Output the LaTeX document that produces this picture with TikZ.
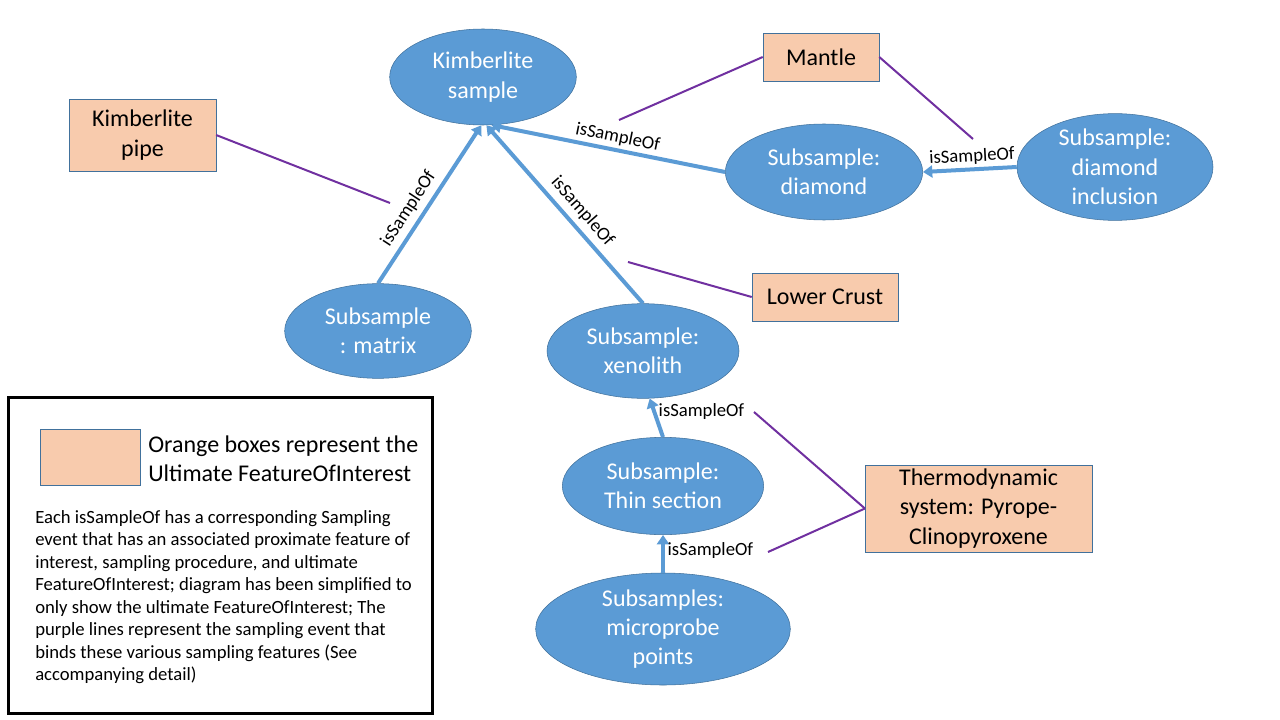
\documentclass[tikz,border=0pt]{standalone}
\usepackage{fontspec}
\setmainfont{Carlito}
\usetikzlibrary{shapes.geometric,arrows.meta}
\definecolor{sampleblue}{HTML}{5B9BD5}
\definecolor{sampleborder}{HTML}{41719C}
\definecolor{foifill}{HTML}{F8CBAD}
\definecolor{eventpurple}{HTML}{7030A0}

\begin{document}
\begin{tikzpicture}[x=0.75pt,y=-0.75pt]
\tikzstyle{sample}=[ellipse, draw=sampleborder, fill=sampleblue, text=white, inner sep=0pt, align=center, font=\fontsize{18}{22}\selectfont]
\tikzstyle{foi}=[rectangle, draw=sampleborder, fill=foifill, inner sep=0pt, align=center, font=\fontsize{18}{22}\selectfont]
\tikzstyle{sample-edge}=[-{Triangle[length=7pt,width=9pt]}, sampleblue, line width=3pt]
\tikzstyle{event-edge}=[eventpurple, line width=1.5pt]
\tikzstyle{edge-label}=[black, font=\fontsize{14}{16}\selectfont, inner sep=2pt]

\useasboundingbox (0,0) rectangle (1280,720);

\node[style=sample, minimum width=140pt, minimum height=72pt] (ksample) at (483,77) {Kimberlite\\sample};
\node[style=sample, minimum width=140pt, minimum height=71pt] (matrix) at (378,331) {Subsample\\: matrix};
\node[style=sample, minimum width=144pt, minimum height=71pt] (xenolith) at (643,351) {Subsample:\\xenolith};
\node[style=sample, minimum width=148pt, minimum height=72pt] (diamond) at (824,172) {Subsample:\\diamond};
\node[style=sample, minimum width=147pt, minimum height=73pt] (inclusion) at (1115,167) {Subsample:\\diamond\\inclusion};
\node[style=sample, minimum width=151pt, minimum height=73pt] (thin) at (663,486) {Subsample:\\Thin section};
\node[style=sample, minimum width=191pt, minimum height=73pt] (micro) at (663,629) {Subsamples:\\microprobe\\points};

\node[style=foi, minimum width=110pt, minimum height=54pt] (pipe) at (142.5,135) {Kimberlite\\pipe};
\node[style=foi, minimum width=87pt, minimum height=36pt] (mantle) at (821,57) {Mantle};
\node[style=foi, minimum width=109.5pt, minimum height=36pt] (crust) at (825,297) {Lower Crust};
\node[style=foi, minimum width=170pt, minimum height=65pt] (thermo) at (978.5,508.5) {Thermodynamic\\system: Pyrope-\\Clinopyroxene};

\draw[style=sample-edge] (matrix.north) -- node[style=edge-label, sloped, above, pos=0.42, inner sep=4pt] {isSampleOf} (ksample.-92);
\draw[style=sample-edge] (xenolith.north) -- node[style=edge-label, sloped, above, pos=0.46, inner sep=4pt] {isSampleOf} (ksample.-86);
\draw[style=sample-edge] (diamond.west) -- node[style=edge-label, sloped, above, pos=0.47] {isSampleOf} (ksample.-80);
\draw[style=sample-edge] (inclusion.west) -- node[style=edge-label, sloped, above, pos=0.47] {isSampleOf} (diamond.east);
\draw[style=sample-edge] (thin.north) -- node[style=edge-label, right, pos=0.67] {isSampleOf} (xenolith.-82);
\draw[style=sample-edge] (micro.north) -- node[style=edge-label, right, pos=0.6] {isSampleOf} (thin.south);

\coordinate (pipe-event) at (390,203);
\coordinate (mantle-event) at (619,120);
\coordinate (inclusion-event) at (973,139);
\coordinate (crust-event) at (628,262);
\coordinate (thin-event) at (754,412);
\coordinate (micro-event) at (768,552);

\draw[style=event-edge] (pipe.east) -- (pipe-event);
\draw[style=event-edge] (mantle.west) -- (mantle-event);
\draw[style=event-edge] (mantle.east) -- (inclusion-event);
\draw[style=event-edge] (crust.west) -- (crust-event);
\draw[style=event-edge] (thermo.west) -- (thin-event);
\draw[style=event-edge] (thermo.west) -- (micro-event);

\draw[line width=2.25pt] (8,397) rectangle (432,713);
\node[style=foi, minimum width=75pt, minimum height=42pt] (swatch) at (90,457) {};
\node[anchor=west, align=left, inner sep=0pt, font=\fontsize{18}{21.5}\selectfont] (legend-title) at (148,459) {Orange boxes represent the\\Ultimate FeatureOfInterest};
\node[anchor=north west, align=left, inner sep=0pt, font=\fontsize{14}{16.9}\selectfont] (legend-text) at (35,510) {Each isSampleOf has a corresponding Sampling\\event that has an associated proximate feature of\\interest, sampling procedure, and ultimate\\FeatureOfInterest; diagram has been simplified to\\only show the ultimate FeatureOfInterest; The\\purple lines represent the sampling event that\\binds these various sampling features (See\\accompanying detail)};

\end{tikzpicture}
\end{document}
